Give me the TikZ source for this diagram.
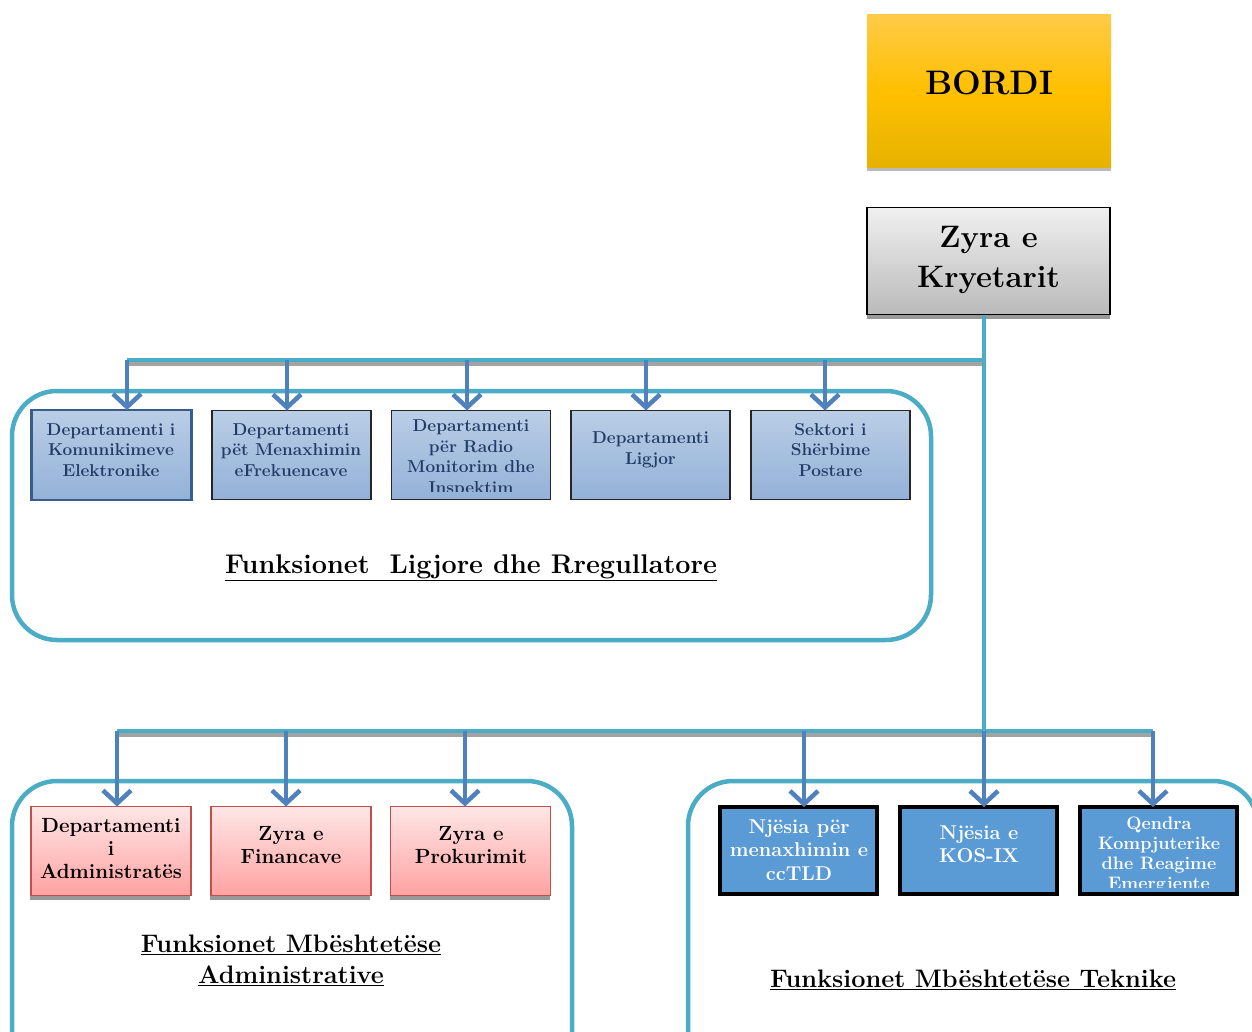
\documentclass[tikz,border=0pt]{standalone}
\usepackage{fontspec}
\usetikzlibrary{arrows.meta,shadows,calc}
\definecolor{tealc}{HTML}{4BACC6}
\definecolor{arrc}{HTML}{4F81BD}
\definecolor{shadc}{HTML}{A3A3A3}
\definecolor{lbtop}{HTML}{BACEE6}
\definecolor{lbbot}{HTML}{93B1D8}
\definecolor{ltxt}{HTML}{223C66}
\definecolor{lbrd}{HTML}{385D8A}
\definecolor{pktop}{HTML}{FFE6E6}
\definecolor{pkbot}{HTML}{FFA2A2}
\definecolor{pkbrd}{HTML}{C0504D}
\definecolor{bbl}{HTML}{5B9BD5}
\definecolor{ortop}{HTML}{FFCA47}
\definecolor{ormid}{HTML}{FFC000}
\definecolor{orbot}{HTML}{E6B200}
\definecolor{grtop}{HTML}{F0F0F0}
\definecolor{grbot}{HTML}{BABABA}
\begin{document}
\begin{tikzpicture}[x=1pt,y=-1pt,
  barline/.style={draw=tealc,line width=4.5pt},
  barshadow/.style={draw=shadc,line width=4pt},
  grp/.style={draw=tealc,line width=4.5pt,rounded corners=45pt},
  arr/.style={draw=arrc,line width=4.5pt,-{Straight Barb[length=13pt,width=28pt]}},
  box/.style={rectangle,inner sep=0pt,outer sep=0pt},
  lbox/.style={box,top color=lbtop,bottom color=lbbot,draw=black!85,line width=1.2pt,minimum width=159pt,minimum height=89pt},
  pbox/.style={box,top color=pktop,bottom color=pkbot,draw=pkbrd,line width=1.8pt,minimum width=160pt,minimum height=89pt,
     drop shadow={shadow xshift=-1pt,shadow yshift=-4pt,fill=black!40,opacity=1}},
  bbox/.style={box,fill=bbl,draw=black,line width=4.5pt,minimum width=157pt,minimum height=87pt},
  ltext/.style={align=center,text=ltxt,font=\bfseries\fontsize{17.2}{20.5}\selectfont,inner sep=0pt},
  ptext/.style={align=center,text=black,font=\bfseries\fontsize{20.5}{23}\selectfont,inner sep=0pt},
  btext/.style={align=center,text=white,font=\bfseries\fontsize{20}{23.5}\selectfont,inner sep=0pt},
  qtext/.style={align=center,text=white,font=\bfseries\fontsize{18}{20}\selectfont,inner sep=0pt},
  title/.style={align=center,text=black,font=\bfseries\fontsize{25.3}{31}\selectfont,inner sep=0pt}
]
\clip (0,0) rectangle (1252,1032);
\fill[white] (0,0) rectangle (1252,1032);

% top boxes
\node[box,minimum width=244pt,minimum height=153pt,top color=ortop,bottom color=orbot,middle color=ormid,
  drop shadow={shadow xshift=0pt,shadow yshift=-3pt,fill=black!45,opacity=0.6}] (bordi) at (989,91.5) {};
\node[font=\bfseries\fontsize{34}{36}\selectfont,inner sep=0pt] (bordit) at (989,83) {BORDI};

\node[box,minimum width=243pt,minimum height=107pt,top color=grtop,bottom color=grbot,draw=black,line width=1.8pt,
  drop shadow={shadow xshift=0pt,shadow yshift=-4pt,fill=black!40,opacity=1}] (zyra) at (988.5,261) {};
\node[align=center,font=\bfseries\fontsize{31}{40}\selectfont,inner sep=0pt] (zyrat) at (988.5,260) {Zyra e\\Kryetarit};

% group frames
\draw[grp] (12,391) rectangle (931,640);
\draw[grp] (12,781) rectangle (572,1080);
\draw[grp] (688,781) rectangle (1258,1080);

% bar coordinates
\coordinate (bar1L) at (127,360);
\coordinate (bar1R) at (984,360);
\coordinate (bar2L) at (117,731);
\coordinate (bar2R) at (1153,731);
\coordinate (zdown) at ($(zyra.south)+(-4.5,0)$);

% row 1 boxes
\node[lbox,draw=lbrd,line width=2.6pt,minimum width=160pt,minimum height=90pt] (b1) at (111.5,455) {};
\node[lbox] (b2) at (291.5,455) {};
\node[lbox] (b3) at (471,455) {};
\node[lbox] (b4) at (650.5,455) {};
\node[lbox] (b5) at (830.5,455) {};
\node[ltext] (t1) at (111,450) {Departamenti i\\Komunikimeve\\Elektronike};
\node[ltext] (t2) at (291,450) {Departamenti\\p\"et Menaxhimin\\eFrekuencave};
\begin{scope}
  \clip ($(b3.north west)$) rectangle ($(b3.south east)+(0,-8)$);
  \node[ltext] (t3) at (471,458.5) {Departamenti\\për Radio\\Monitorim dhe\\Inspektim};
\end{scope}
\node[ltext] (t4) at (650.5,450) {Departamenti\\Ligjor};
\node[ltext] (t5) at (830.5,450) {Sektori i\\Shërbime\\Postare};

% row 2 boxes
\node[pbox] (p1) at (111,851) {};
\node[pbox] (p2) at (291,851) {};
\node[pbox] (p3) at (470.5,851) {};
\node[ptext] (q1) at (111,849) {Departamenti\\i\\Administratës};
\node[ptext] (q2) at (291,845) {Zyra e\\Financave};
\node[ptext] (q3) at (471,845) {Zyra e\\Prokurimit};

\node[bbox] (n1) at (798.5,850.5) {};
\node[bbox] (n2) at (978.5,850.5) {};
\node[bbox] (n3) at (1158.5,850.5) {};
\node[btext] (m1) at (799,850) {Njësia për\\menaxhimin e\\ccTLD};
\node[btext] (m2) at (979,844.5) {Njësia e\\KOS-IX};
\begin{scope}
  \clip ($(n3.north west)+(3,3)$) rectangle ($(n3.south east)+(-3,-7)$);
  \node[qtext] (m3) at (1159,855) {Qendra\\Kompjuterike\\dhe Reagime\\Emergjente};
\end{scope}

% titles
\node[title,font=\bfseries\fontsize{27}{31}\selectfont] (g1) at (471,568) {\underline{Funksionet\hspace{20pt}Ligjore dhe Rregullatore}};
\node[title] (g2) at (291,960) {\underline{Funksionet Mbështetëse}\\\underline{Administrative}};
\node[title] (g3) at (973,980) {\underline{Funksionet Mbështetëse Teknike}};

% connector bars
\draw[barshadow] ($(bar1L)+(0,4)$) -- ($(bar1R)+(0,4)$);
\draw[barshadow] ($(bar2L)+(0,4)$) -- ($(bar2R)+(0,4)$);
\draw[barline] (bar1L) -- (bar1R);
\draw[barline] (bar2L) -- (bar2R);
\draw[barline] (zdown) -- (zdown |- bar2R);

% arrows
\foreach \b/\x in {b1/127,b2/287,b3/467,b4/646,b5/825}{
  \draw[arr] (\x,360) -- (\x,0 |- \b.north);
}
\foreach \b/\x in {p1/117,p2/286,p3/465,n1/804,n2/984,n3/1153}{
  \draw[arr] (\x,731) -- (\x,0 |- \b.north);
}
\end{tikzpicture}
\end{document}
